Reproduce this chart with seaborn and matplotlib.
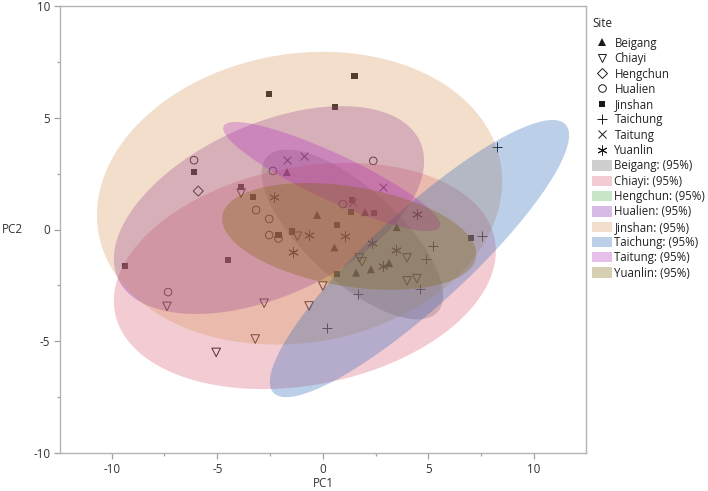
import numpy as np
import pandas as pd
import matplotlib
matplotlib.use('Agg')
import matplotlib.pyplot as plt
from matplotlib.lines import Line2D
from matplotlib.patches import Patch
from matplotlib.ticker import MultipleLocator
import seaborn as sns

sites = ['Beigang', 'Chiayi', 'Hengchun', 'Hualien', 'Jinshan', 'Taichung', 'Taitung', 'Yuanlin']

# scores
beigang_x = [-1.7, -0.27, 2.0, 3.5, 0.55, 1.58, 2.28, 3.14]
beigang_y = [2.57, 0.65, 0.78, 0.11, -0.8, -1.93, -1.78, -1.5]
chiayi_x = [-3.87, -1.2, 1.73, 1.86, 3.99, 3.99, 4.46, 0.0, -0.65, -7.38, -2.78, -3.2, -5.05]
chiayi_y = [1.63, -0.3, -1.27, -1.45, -1.27, -2.3, -2.2, -2.53, -3.42, -3.44, -3.3, -4.9, -5.5]
hengchun_x = [-5.9]
hengchun_y = [1.72]
hualien_x = [-6.1, -2.36, -3.16, -2.54, -2.54, -2.1, 2.39, 0.95, -7.33]
hualien_y = [3.1, 2.62, 0.87, 0.47, -0.25, -0.4, 3.07, 1.14, -2.8]
jinshan_x = [-2.55, 1.5, 0.58, -6.1, -3.87, -3.3, -2.1, -1.45, 1.39, 1.33, 2.43, 0.67, 0.67, 7.02, -9.37, -4.49]
jinshan_y = [6.06, 6.87, 5.48, 2.57, 1.9, 1.45, -0.25, -0.1, 1.32, 0.78, 0.74, 0.2, -1.99, -0.38, -1.64, -1.37]
taichung_x = [8.26, 7.55, 5.23, 4.9, 4.6, 1.67, 0.2]
taichung_y = [3.69, -0.29, -0.74, -1.32, -2.66, -2.89, -4.41]
taitung_x = [-1.7, -0.89, 2.86, 1.44]
taitung_y = [3.11, 3.29, 1.9, 1.23]
yuanlin_x = [-2.3, -0.65, -1.4, 1.05, 2.33, 4.47, 3.47, 2.85]
yuanlin_y = [1.45, -0.25, -1.0, -0.29, -0.6, 0.69, -0.92, -1.64]

xs = [beigang_x, chiayi_x, hengchun_x, hualien_x, jinshan_x, taichung_x, taitung_x, yuanlin_x]
ys = [beigang_y, chiayi_y, hengchun_y, hualien_y, jinshan_y, taichung_y, taitung_y, yuanlin_y]

# 95% ellipses: centre, half extents along x and y, correlation (Hengchun has none)
ell_sites = ['Beigang', 'Chiayi', 'Hualien', 'Jinshan', 'Taichung', 'Taitung', 'Yuanlin']
ell_cx = [1.4, -0.85, -2.55, -1.1, 4.58, 0.42, 1.25]
ell_cy = [-0.22, -2.08, 0.87, 1.4, -1.3, 2.37, -0.31]
ell_sx = [4.3, 9.05, 7.35, 9.6, 7.09, 5.14, 6.02]
ell_sy = [3.8, 5.06, 4.65, 6.55, 6.2, 2.44, 2.39]
ell_rho = [-0.72, 0.22, 0.47, 0.116, 0.89, -0.885, -0.33]

colors = dict(zip(sites, ['#626262', '#DA5870', '#48AC48', '#7D20AC', '#D79455', '#2362B6', '#B22DC0', '#7D6200']))
markers = dict(zip(sites, ['^', 'v', 'D', 'o', 's', '+', 'x', (6, 2, 0)]))
sizes = dict(zip(sites, [34, 38, 26, 30, 22, 55, 32, 50]))
open_sites = ['Chiayi', 'Hengchun', 'Hualien']
line_sites = ['Taichung', 'Taitung', 'Yuanlin']
ALPHA = 0.3
INK = '#1a1a1a'
LW = 0.7

sns.set_theme(style='white')
plt.rcParams['font.family'] = ['Open Sans', 'DejaVu Sans']
plt.rcParams['axes.unicode_minus'] = False

df = pd.concat([pd.DataFrame({'PC1': x, 'PC2': y, 'Site': s}) for s, x, y in zip(sites, xs, ys)])

fig = plt.figure(figsize=(7.08, 4.91), dpi=100)
ax = fig.add_axes([60 / 708, 1 - 453 / 491, 526 / 708, 447 / 491])

for s in sites:
    sub = df[df['Site'] == s]
    if s in open_sites:
        sns.scatterplot(data=sub, x='PC1', y='PC2', marker=markers[s], s=sizes[s], facecolor='none',
                        edgecolor=INK, linewidth=LW, ax=ax, zorder=2)
    elif s in line_sites:
        sns.scatterplot(data=sub, x='PC1', y='PC2', marker=markers[s], s=sizes[s], color=INK,
                        linewidth=LW, ax=ax, zorder=2)
    else:
        sns.scatterplot(data=sub, x='PC1', y='PC2', marker=markers[s], s=sizes[s], color=INK,
                        edgecolor='none', ax=ax, zorder=2)

t = np.linspace(0, 2 * np.pi, 200)
for s, cx, cy, sx, sy, r in zip(ell_sites, ell_cx, ell_cy, ell_sx, ell_sy, ell_rho):
    ex = cx + sx * np.cos(t)
    ey = cy + sy * np.cos(t - np.arccos(r))
    ax.fill(ex, ey, color=colors[s], alpha=ALPHA, lw=0, zorder=3)

ax.set_xlim(-12.45, 12.47)
ax.set_ylim(-10, 10)
ax.xaxis.set_major_locator(MultipleLocator(5))
ax.xaxis.set_minor_locator(MultipleLocator(2.5))
ax.yaxis.set_major_locator(MultipleLocator(5))
ax.yaxis.set_minor_locator(MultipleLocator(2.5))
ax.tick_params(which='major', bottom=True, left=True, length=4.5, width=0.9, color='#a0a0a0',
               labelsize=8.4, labelcolor='#333333', pad=2.5)
ax.tick_params(which='minor', bottom=True, left=True, length=2.5, width=0.9, color='#a0a0a0')
for sp in ax.spines.values():
    sp.set_color('#b4b4b4')
    sp.set_linewidth(1.0)
ax.set_xlabel('PC1', fontsize=8.4, color='#333333', labelpad=1)
ax.set_ylabel('PC2', fontsize=8.4, color='#333333', rotation=0, labelpad=15, va='center')

handles = []
labels = []
for s in sites:
    if s in open_sites:
        h = Line2D([], [], ls='', marker=markers[s], mfc='none', mec=INK, mew=LW, ms=np.sqrt(sizes[s]))
    elif s in line_sites:
        h = Line2D([], [], ls='', marker=markers[s], color=INK, mew=LW, ms=np.sqrt(sizes[s]))
    else:
        h = Line2D([], [], ls='', marker=markers[s], color=INK, mew=0, ms=np.sqrt(sizes[s]))
    handles.append(h)
    labels.append(s)
for s in sites:
    handles.append(Patch(facecolor=colors[s], alpha=ALPHA, lw=0))
    labels.append(s + ': (95%)')

leg = ax.legend(handles, labels, title='Site', loc='upper left', bbox_to_anchor=(592 / 708, 1 - 17 / 491),
                bbox_transform=fig.transFigure, frameon=False, fontsize=8.3, title_fontsize=8.4,
                labelspacing=0.2, handlelength=1.75, handleheight=1.0, handletextpad=0.2,
                borderpad=0, borderaxespad=0, labelcolor='#222222')
leg._legend_box.align = 'left'
leg._legend_box.sep = 5

fig.savefig('out.png', dpi=100)
